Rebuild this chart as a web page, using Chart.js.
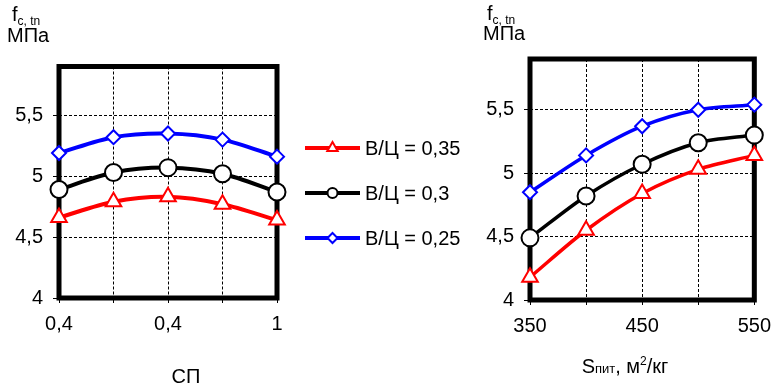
<!DOCTYPE html>
<html>
<head>
<meta charset="utf-8">
<script src="https://cdn.jsdelivr.net/npm/chart.js@4.4.3/dist/chart.umd.min.js"></script>
<style>
  html, body { margin: 0; padding: 0; background: #fff; }
  #wrap { position: relative; width: 780px; height: 388px; overflow: hidden; }
  .box { position: absolute; top: 0; height: 388px; }
  #left { left: 0; width: 480px; }
  #right { left: 480px; width: 300px; }
</style>
</head>
<body>
<div id="wrap">
  <div class="box" id="left"><canvas id="c1"></canvas></div>
  <div class="box" id="right"><canvas id="c2"></canvas></div>
</div>
<script>
// left panel: СП (categories), right panel: S пит
const spLabels = ['0,4', '', '0,4', '', '1'];
const sValues = [350, 400, 450, 500, 550];
const sTickLabels = ['350', '450', '550'];
const seriesNames = ['В/Ц = 0,35', 'В/Ц = 0,3', 'В/Ц = 0,25'];

const spRed = [4.66, 4.79, 4.83, 4.77, 4.64];
const spBlack = [4.89, 5.03, 5.07, 5.02, 4.87];
const spBlue = [5.19, 5.32, 5.35, 5.30, 5.16];

const sRed = [4.18, 4.55, 4.84, 5.03, 5.14];
const sBlack = [4.49, 4.82, 5.07, 5.24, 5.30];
const sBlue = [4.85, 5.14, 5.37, 5.50, 5.54];

const FONT = "'Liberation Sans', Arial, sans-serif";
const FS = 20;
const colors = ['#ff0000', '#000000', '#0000ff'];
const styles = [
  { pointStyle: 'triangle', radius: 9 },
  { pointStyle: 'circle', radius: 8.5 },
  { pointStyle: 'rectRot', radius: 7 }
];

function makeSets(values, lw) {
  return values.map((v, i) => ({
    label: seriesNames[i],
    data: v,
    borderColor: colors[i],
    borderWidth: lw,
    pointStyle: styles[i].pointStyle,
    pointRadius: styles[i].radius,
    pointBorderWidth: 2,
    pointBackgroundColor: '#fff',
    pointBorderColor: colors[i],
    tension: 0.3,
    clip: false
  }));
}

function drawRuns(ctx, x, y, runs, align) {
  let total = 0;
  runs.forEach(r => { ctx.font = r.size + 'px ' + FONT; total += ctx.measureText(r.t).width; });
  let cx = align === 'center' ? x - total / 2 : x;
  ctx.textAlign = 'left';
  ctx.textBaseline = 'alphabetic';
  ctx.fillStyle = '#000';
  runs.forEach(r => {
    ctx.font = r.size + 'px ' + FONT;
    ctx.fillText(r.t, cx, y + (r.dy || 0));
    cx += ctx.measureText(r.t).width;
  });
}

// thick frame round the plot area + free texts
const framePlugin = {
  id: 'frame',
  beforeDatasetsDraw(chart) {
    const a = chart.chartArea, ctx = chart.ctx;
    ctx.save();
    ctx.strokeStyle = '#000';
    ctx.lineWidth = 5;
    ctx.strokeRect(a.left, a.top, a.right - a.left, a.bottom - a.top);
    ctx.restore();
  },
  afterDraw(chart, args, opts) {
    const ctx = chart.ctx;
    ctx.save();
    (opts.texts || []).forEach(t => drawRuns(ctx, t.x, t.y, t.runs, t.align));
    ctx.restore();
  }
};

// legend: line with marker, in the gap between panels
const legendPlugin = {
  id: 'lineLegend',
  afterDraw(chart, args, opts) {
    if (!opts.show) return;
    const ctx = chart.ctx;
    ctx.save();
    chart.data.datasets.forEach((ds, i) => {
      const y = opts.ys[i];
      ctx.strokeStyle = ds.borderColor;
      ctx.lineWidth = 4;
      ctx.beginPath();
      ctx.moveTo(opts.x0, y);
      ctx.lineTo(opts.x1, y);
      ctx.stroke();
      ctx.fillStyle = '#fff';
      ctx.lineWidth = 2;
      Chart.helpers.drawPoint(ctx, { pointStyle: ds.pointStyle, radius: opts.radius[i], borderWidth: 2, rotation: 0 }, (opts.x0 + opts.x1) / 2, y);
      ctx.fillStyle = '#000';
      ctx.font = FS + 'px ' + FONT;
      ctx.textAlign = 'left';
      ctx.textBaseline = 'middle';
      ctx.fillText(ds.label, opts.x1 + 5, y + 1);
    });
    ctx.restore();
  }
};

function yScale(width) {
  return {
    min: 4,
    max: 5.9,
    afterFit: s => { s.width = width; },
    ticks: {
      stepSize: 0.5,
      includeBounds: false,
      color: '#000',
      padding: 10,
      font: { family: FONT, size: FS },
      callback: v => String(v).replace('.', ',')
    },
    grid: { color: '#000', lineWidth: 1, tickLength: 6, tickColor: '#000', tickWidth: 1, tickBorderDash: [] },
    border: { display: false, dash: [3, 2] }
  };
}

const xGrid = { color: '#000', lineWidth: 1, tickLength: 5, tickColor: '#000', tickWidth: 1, tickBorderDash: [] };
const xTickFont = { family: FONT, size: FS };

new Chart(document.getElementById('c1'), {
  type: 'line',
  data: { labels: spLabels, datasets: makeSets([spRed, spBlack, spBlue], 4) },
  options: {
    responsive: true,
    maintainAspectRatio: false,
    animation: false,
    layout: { padding: { left: 0, top: 66.5, right: 203, bottom: 0 } },
    plugins: {
      legend: { display: false },
      tooltip: { enabled: false },
      lineLegend: { show: true, x0: 305, x1: 360, ys: [148, 193, 238], radius: [6, 5, 5] },
      frame: {
        texts: [
          { x: 12, y: 21, runs: [{ t: 'f', size: FS }, { t: 'c, tn', size: 12, dy: 4 }] },
          { x: 7, y: 42, runs: [{ t: 'МПа', size: FS }] },
          { x: 186, y: 383, align: 'center', runs: [{ t: 'СП', size: FS }] }
        ]
      }
    },
    scales: {
      x: {
        offset: false,
        afterFit: s => { s.height = 90; },
        ticks: { color: '#000', padding: 9, font: xTickFont, maxRotation: 0, autoSkip: false },
        grid: xGrid,
        border: { display: false, dash: [3, 2] }
      },
      y: yScale(59)
    }
  },
  plugins: [framePlugin, legendPlugin]
});

new Chart(document.getElementById('c2'), {
  type: 'line',
  data: {
    datasets: makeSets([sRed, sBlack, sBlue], 3.5).map(ds => ({
      ...ds,
      data: ds.data.map((v, i) => ({ x: sValues[i], y: v }))
    }))
  },
  options: {
    responsive: true,
    maintainAspectRatio: false,
    animation: false,
    layout: { padding: { left: 0, top: 59, right: 21, bottom: 0 } },
    plugins: {
      legend: { display: false },
      tooltip: { enabled: false },
      frame: {
        texts: [
          { x: 7, y: 20, runs: [{ t: 'f', size: FS }, { t: 'c, tn', size: 12, dy: 4 }] },
          { x: 3, y: 40, runs: [{ t: 'МПа', size: FS }] },
          { x: 145, y: 373, align: 'center', runs: [
            { t: 'S', size: FS }, { t: 'пит', size: 13 }, { t: ', м', size: FS },
            { t: '2', size: 12, dy: -8 }, { t: '/кг', size: FS }
          ] }
        ]
      }
    },
    scales: {
      x: {
        type: 'linear',
        min: sValues[0],
        max: sValues[sValues.length - 1],
        afterFit: s => { s.height = 88; },
        ticks: {
          stepSize: 50,
          color: '#000',
          padding: 9,
          font: xTickFont,
          maxRotation: 0,
          autoSkip: false,
          callback: v => sTickLabels.includes(String(v)) ? String(v) : ''
        },
        grid: xGrid,
        border: { display: false, dash: [3, 2] }
      },
      y: yScale(50)
    }
  },
  plugins: [framePlugin]
});
</script>
</body>
</html>
